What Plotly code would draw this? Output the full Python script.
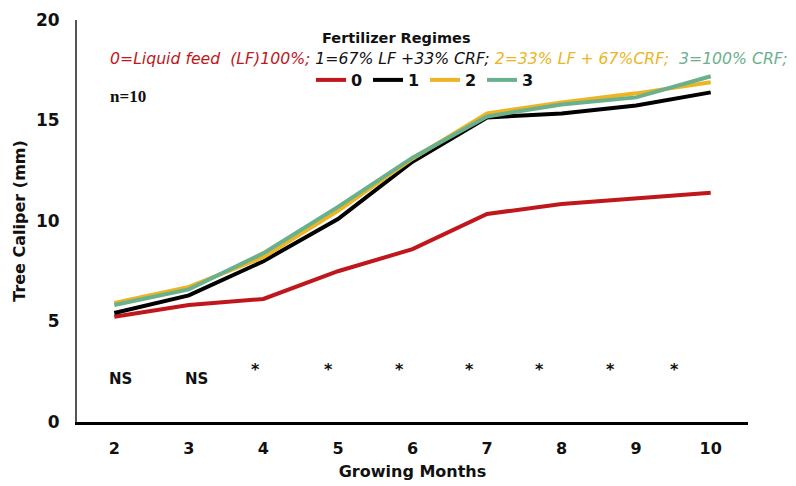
import plotly.graph_objects as go

months = [2, 3, 4, 5, 6, 7, 8, 9, 10]
regime_0 = [5.24, 5.82, 6.12, 7.5, 8.6, 10.35, 10.85, 11.1, 11.4]
regime_1 = [5.42, 6.3, 8.0, 10.1, 12.95, 15.15, 15.35, 15.75, 16.4]
regime_2 = [5.92, 6.72, 8.2, 10.5, 13.1, 15.35, 15.9, 16.35, 16.9]
regime_3 = [5.82, 6.6, 8.4, 10.7, 13.15, 15.2, 15.8, 16.15, 17.2]
series_names = ["0", "1", "2", "3"]
series_colors = ["#C0171D", "#000000", "#EDB424", "#6AB08C"]

sig_labels = ["NS", "NS", "*", "*", "*", "*", "*", "*", "*"]
sig_x = [2.09, 3.1, 3.89, 4.87, 5.82, 6.76, 7.71, 8.66, 9.51]
sig_y = [2.15, 2.15, 2.6, 2.6, 2.6, 2.6, 2.6, 2.6, 2.6]

FONT = "DejaVu Sans"

# page body has an 8px margin; figure is sized to fit the remaining window
W, H = 788, 478
L, R, T, B = 69, 48, 12, 64
pw, ph = W - L - R, H - T - B


def px(x):
    return (x - L) / pw


def py(y):
    return 1 - (y - T) / ph


fig = go.Figure()
for name, vals, col in zip(series_names, [regime_0, regime_1, regime_2, regime_3], series_colors):
    fig.add_trace(go.Scatter(x=months, y=vals, mode="lines", name="<b>%s</b>" % name,
                             line=dict(color=col, width=4)))

for lab, xx, yy in zip(sig_labels, sig_x, sig_y):
    fig.add_annotation(x=xx, y=yy, text="<b>%s</b>" % lab, showarrow=False,
                       xref="x", yref="y", xanchor="center", yanchor="middle",
                       font=dict(family=FONT, size=15 if lab == "NS" else 16, color="#111"))

fig.add_annotation(x=px(388), y=py(30), xref="paper", yref="paper",
                   xanchor="center", yanchor="middle", text="<b>Fertilizer Regimes</b>",
                   showarrow=False, font=dict(family=FONT, size=14.5, color="#111"))

desc = ("<span style='color:#C0171D'>0=Liquid feed  (LF)100%;</span> "
        "<span style='color:#111111'>1=67% LF +33% CRF;</span> "
        "<span style='color:#EDB424'>2=33% LF + 67%CRF;</span>  "
        "<span style='color:#6AB08C'>3=100% CRF;</span>")
fig.add_annotation(x=px(441), y=py(50), xref="paper", yref="paper",
                   xanchor="center", yanchor="middle", text="<i>" + desc + "</i>",
                   showarrow=False, font=dict(family=FONT, size=15.7))
fig.add_annotation(x=px(100), y=py(89), xref="paper", yref="paper",
                   xanchor="left", yanchor="middle", text="<b>n=10</b>", showarrow=False,
                   font=dict(family="Liberation Serif", size=17, color="#111"))

fig.update_layout(
    width=W, height=H,
    margin=dict(l=L, r=R, t=T, b=B, autoexpand=False),
    plot_bgcolor="white", paper_bgcolor="white",
    showlegend=True,
    legend=dict(orientation="h", x=px(417), xanchor="center",
                y=py(72), yanchor="middle",
                font=dict(family=FONT, size=16, color="#111"),
                itemwidth=30, entrywidth=12, bgcolor="rgba(0,0,0,0)"),
    font=dict(family=FONT, color="#111"),
)
fig.update_xaxes(range=[1.5, 10.5], tickvals=months, ticktext=["<b>%d</b>" % m for m in months],
                 showline=True, linecolor="#000", linewidth=3, showgrid=False, zeroline=False,
                 ticks="", ticklabelstandoff=10, automargin=False,
                 tickfont=dict(family=FONT, size=16, color="#111"),
                 title=dict(text="<b>Growing Months</b>", font=dict(family=FONT, size=16, color="#111"),
                            standoff=9))
fig.update_yaxes(range=[0, 20], tickvals=[0, 5, 10, 15, 20],
                 ticktext=["<b>%d</b>" % v for v in [0, 5, 10, 15, 20]],
                 showline=True, linecolor="#555", linewidth=2, showgrid=False, zeroline=False,
                 ticks="", ticklabelstandoff=12, automargin=False,
                 tickfont=dict(family=FONT, size=17, color="#111"),
                 title=dict(text="<b>Tree Caliper (mm)</b>", font=dict(family=FONT, size=16, color="#111"),
                            standoff=6))

fig.write_html("out.html")
